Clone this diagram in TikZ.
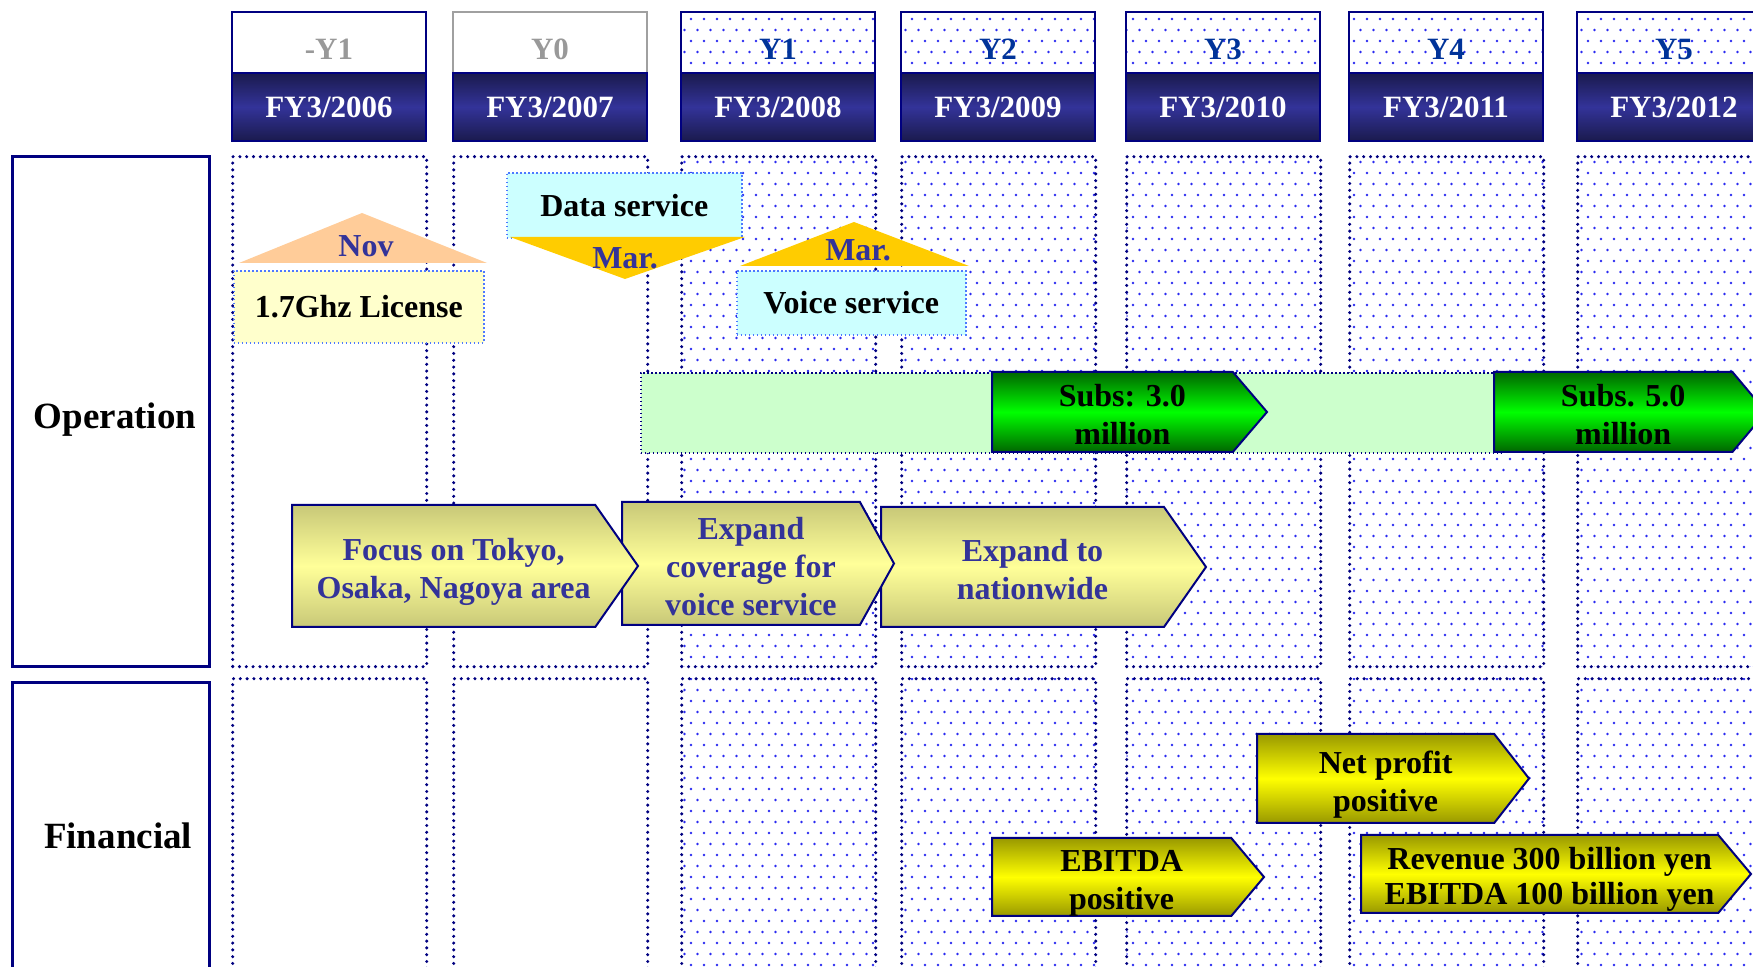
\documentclass[tikz,border=0pt]{standalone}
\usepackage{fontspec}
\setmainfont{Liberation Serif}
\usetikzlibrary{positioning,shapes.symbols,patterns}
\definecolor{navy}{HTML}{000080}
\definecolor{yrblue}{HTML}{003399}
\definecolor{lbltext}{HTML}{333399}
\definecolor{fymid}{HTML}{333399}
\definecolor{fydark}{HTML}{1A1A4D}
\definecolor{greyline}{HTML}{A0A0A0}
\definecolor{greytxt}{HTML}{999999}
\definecolor{dotblue}{HTML}{2A2AF0}
\definecolor{notebl}{HTML}{4D79FF}
\definecolor{olive}{HTML}{C8C878}
\definecolor{oliveL}{HTML}{FFFF99}
\definecolor{ylwD}{HTML}{999900}
\definecolor{ylw}{HTML}{FFFF00}
\definecolor{grnD}{HTML}{006600}
\definecolor{grn}{HTML}{00FF00}
\definecolor{bandgreen}{HTML}{CCFFCC}
\definecolor{cyanbox}{HTML}{CCFFFF}
\definecolor{licyellow}{HTML}{FFFFCC}
\definecolor{peach}{HTML}{FFCC99}
\definecolor{gold}{HTML}{FFCC00}
\pgfdeclarepatternformonly{bluedots}{\pgfqpoint{-1pt}{-1pt}}{\pgfqpoint{14pt}{12pt}}{\pgfqpoint{13pt}{11pt}}{%
  \pgfpathcircle{\pgfqpoint{1pt}{1pt}}{0.7pt}
  \pgfpathcircle{\pgfqpoint{7.5pt}{1pt}}{0.7pt}
  \pgfpathcircle{\pgfqpoint{4.25pt}{6.5pt}}{0.7pt}
  \pgfpathcircle{\pgfqpoint{10.75pt}{6.5pt}}{0.7pt}
  \pgfusepath{fill}}
% stage text, nudged right towards the pointer and a little down
\newcommand{\stagetxt}[1]{\raisebox{-3pt}[\height][\depth]{\begin{tabular}{@{\hspace{10pt}}c@{}}#1\end{tabular}}}
\tikzset{
  yrtop/.style = {rectangle, anchor=north west, inner sep=0pt, line width=1pt,
                  minimum width=97pt, minimum height=30.5pt, text height=17pt, text depth=0pt,
                  font=\fontsize{15.5}{18}\selectfont\bfseries},
  pastyr/.style = {draw=navy, text=greytxt},
  baseyr/.style = {draw=greyline, text=greytxt},
  planyr/.style = {draw=navy, pattern=bluedots, pattern color=dotblue, text=yrblue},
  fybar/.style = {rectangle, anchor=north west, inner sep=0pt, draw=navy, line width=1pt,
                  minimum width=97pt, minimum height=34pt,
                  top color=fydark, bottom color=fydark, middle color=fymid,
                  text=white, font=\fontsize{15.5}{18}\selectfont\bfseries},
  colbox/.style = {rectangle, anchor=north west, inner sep=0pt, draw=navy, line width=1.7pt,
                   dash pattern=on 0pt off 3.4pt, line cap=round, minimum width=97pt},
  blank/.style = {},
  dotfill/.style = {pattern=bluedots, pattern color=dotblue},
  lane/.style = {rectangle, anchor=north west, inner sep=0pt, draw=navy, line width=1.6pt,
                 minimum width=98.5pt, font=\fontsize{18.5}{22}\selectfont\bfseries},
  band/.style = {rectangle, anchor=north west, inner sep=0pt, fill=bandgreen, draw=navy,
                 line width=0.8pt, dash pattern=on 0.8pt off 1.2pt},
  note/.style = {rectangle, anchor=north west, inner sep=0pt, draw=notebl, line width=0.8pt,
                 dash pattern=on 0.8pt off 1.2pt, font=\fontsize{16}{19}\selectfont\bfseries},
  month/.style = {text=lbltext, font=\fontsize{16}{19}\selectfont\bfseries},
  stage/.style = {signal, signal to=east, anchor=west, draw=navy, line width=1pt,
                  inner sep=0pt, font=\fontsize{16}{19}\selectfont\bfseries},
  opstage/.style = {stage, text=lbltext, top color=olive, bottom color=olive, middle color=oliveL},
  subsstage/.style = {stage, top color=grnD, bottom color=grnD, middle color=grn},
  finstage/.style = {stage, top color=ylwD, bottom color=ylwD, middle color=ylw}
}
\begin{document}
\begin{tikzpicture}[x=0.5pt,y=-0.5pt]
  \useasboundingbox (0,0) rectangle (1753,967);
  \clip (0,0) rectangle (1753,967);
  % year columns
  \foreach \cx/\yr/\lab/\sty/\fsty [count=\i] in {231/2006/-Y1/pastyr/blank,
      452/2007/Y0/baseyr/blank, 680/2008/Y1/planyr/dotfill, 900/2009/Y2/planyr/dotfill,
      1125/2010/Y3/planyr/dotfill, 1348/2011/Y4/planyr/dotfill, 1576/2012/Y5/planyr/dotfill} {
    \node[yrtop,\sty] (yr\i) at (\cx,11) {\lab};
    \node[fybar] (fy\i) at (\cx,72) {FY3/\yr};
    \node[colbox,\fsty,minimum height=255pt] (op\i) at (\cx,155) {};
    \node[colbox,\fsty,minimum height=160pt] (fin\i) at (\cx,677) {};
  }
  % lanes
  \node[lane,minimum height=255pt,text height=17pt,text depth=0pt] (oplane) at (11,155) {\hspace*{4pt}Operation};
  \node[lane,minimum height=153pt] (finlane) at (11,681) {\hspace*{7pt}Financial};
  \node[band,minimum width=430pt,minimum height=40pt] (subsband) at (640,372) {};
  % milestones
  \fill[peach] (239,263) -- (487,263) -- (362,213) -- cycle;
  \node[month] (novmark) at (366,246) {Nov};
  \node[note,fill=licyellow,minimum width=125pt,minimum height=36pt] (license) at (233,270) {1.7Ghz License};
  \node[note,fill=cyanbox,minimum width=117.5pt,minimum height=32.5pt] (datasvc) at (506,172) {Data service};
  \fill[gold] (510,237) -- (745,237) -- (625,279) -- cycle;
  \node[month] (datamar) at (625,258) {Mar.};
  \fill[gold] (740,266) -- (969,266) -- (854,222) -- cycle;
  \node[month] (voicemar) at (858,250) {Mar.};
  \node[note,fill=cyanbox,minimum width=114.5pt,minimum height=32pt] (voicesvc) at (736,270) {Voice service};
  % stages
  \node[subsstage,minimum width=137.5pt,minimum height=40pt,signal pointer angle=99] (subs3) at (991,412) {\stagetxt{Subs: 3.0\\million}};
  \node[subsstage,minimum width=136pt,minimum height=40pt,signal pointer angle=100] (subs5) at (1493,412) {\stagetxt{Subs. 5.0\\million}};
  \node[opstage,minimum width=162.5pt,minimum height=60pt,signal pointer angle=110] (nationwide) at (880,567) {\stagetxt{Expand to\\nationwide}};
  \node[opstage,minimum width=136pt,minimum height=61.5pt,signal pointer angle=122] (coverage) at (621,563.5) {\stagetxt{Expand\\coverage for\\voice service}};
  \node[opstage,minimum width=173pt,minimum height=61pt,signal pointer angle=110] (focus) at (291,566) {\stagetxt{Focus on Tokyo,\\Osaka, Nagoya area}};
  \node[finstage,minimum width=136pt,minimum height=44.5pt,signal pointer angle=104] (netprofit) at (1256,778.5) {\stagetxt{Net profit\\positive}};
  \node[finstage,minimum width=136pt,minimum height=39pt,signal pointer angle=100] (ebitda) at (991,877) {\stagetxt{EBITDA\\positive}};
  \node[finstage,minimum width=195pt,minimum height=39pt,signal pointer angle=100,font=\fontsize{16}{17.5}\selectfont\bfseries] (revenue) at (1360,874) {\stagetxt{Revenue 300 billion yen\\EBITDA 100 billion yen}};
\end{tikzpicture}
\end{document}
